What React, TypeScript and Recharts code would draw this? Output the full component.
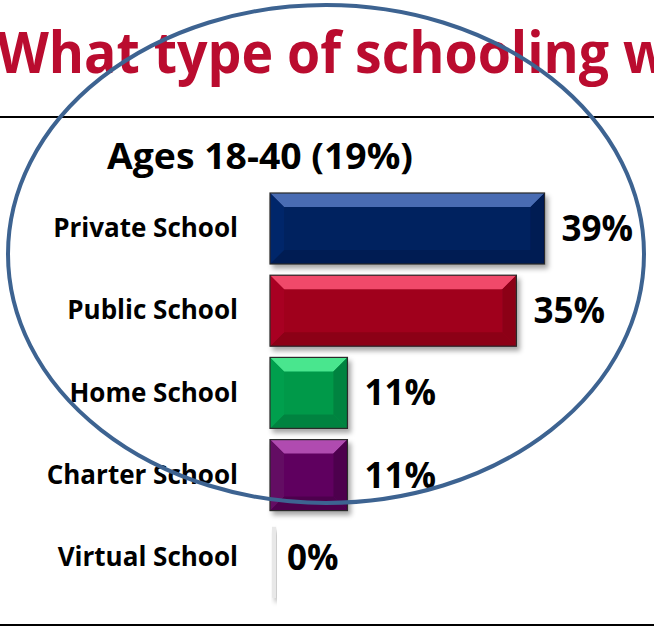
import { Bar, BarChart, Cell, LabelList, XAxis, YAxis } from "recharts";

const categories = ["Private School", "Public School", "Home School", "Charter School", "Virtual School"];
const values = [39, 35, 11, 11, 0];

// main / top bevel / bottom bevel / side colours per bar
const mainColors = ["#00205F", "#A0001F", "#00994A", "#5E005E", "#E6E6E6"];
const topColors = ["#4A6CB3", "#F0486A", "#48E68E", "#B04CB0", "#F2F2F2"];
const bottomColors = ["#001A52", "#8C0019", "#00833F", "#4E004E", "#DDDDDD"];
const sideColors = ["#06266A", "#A80524", "#049F4E", "#640864", "#E0E0E0"];

const TITLE = "What type of schooling w";
const SUBTITLE = "Ages 18-40 (19%)";

const FONT = "'Open Sans', sans-serif";

const data = categories.map((name, i) => ({ name, value: values[i] }));

function BevelBar(props: any) {
  const { x, y, width, height, index } = props;
  if (width <= 0.5) {
    return (
      <rect x={x + 2} y={y + 5} width={4} height={height} fill="#E8E8E8" filter="url(#shadow)" />
    );
  }
  const b = 14;
  const x2 = x + width;
  const y2 = y + height;
  return (
    <g filter="url(#shadow)">
      <rect x={x} y={y} width={width} height={height} fill={mainColors[index]} />
      <polygon
        points={`${x},${y} ${x2},${y} ${x2 - b},${y + b} ${x + b},${y + b}`}
        fill={topColors[index]}
      />
      <polygon
        points={`${x},${y2} ${x2},${y2} ${x2 - b},${y2 - b} ${x + b},${y2 - b}`}
        fill={bottomColors[index]}
      />
      <polygon
        points={`${x},${y} ${x + b},${y + b} ${x + b},${y2 - b} ${x},${y2}`}
        fill={sideColors[index]}
      />
      <polygon
        points={`${x2},${y} ${x2 - b},${y + b} ${x2 - b},${y2 - b} ${x2},${y2}`}
        fill={bottomColors[index]}
      />
      <rect x={x} y={y} width={width} height={height} fill="none" stroke="#2a2a2a" strokeWidth={1.2} />
    </g>
  );
}

function CategoryTick(props: any) {
  const { x, y, payload } = props;
  return (
    <text
      x={x}
      y={y}
      dy={9}
      textAnchor="end"
      fontFamily={FONT}
      fontWeight={700}
      fontSize={26}
      fill="#000"
    >
      {payload.value}
    </text>
  );
}

export default function App() {
  return (
    <div style={{ position: "absolute", left: 0, top: 0, width: 654, height: 627, background: "#fff" }}>
      <BarChart
        width={654}
        height={627}
        data={data}
        layout="vertical"
        margin={{ top: 187, right: 32, bottom: 29, left: 0 }}
        barSize={71}
      >
        <defs>
          <filter id="shadow" x="-10%" y="-20%" width="130%" height="150%">
            <feDropShadow dx={3} dy={4} stdDeviation={2.5} floodColor="#000" floodOpacity={0.35} />
          </filter>
        </defs>
        <XAxis type="number" domain={[0, 50]} hide />
        <YAxis
          type="category"
          dataKey="name"
          width={270}
          axisLine={false}
          tickLine={false}
          tickMargin={26}
          tick={<CategoryTick />}
          interval={0}
        />
        <Bar dataKey="value" shape={<BevelBar />} isAnimationActive={false}>
          {data.map((d) => (
            <Cell key={d.name} />
          ))}
          <LabelList
            dataKey="value"
            position="right"
            offset={17}
            formatter={(v: any) => `${v}%`}
            style={{ fontFamily: FONT, fontWeight: 700, fontSize: 35, fill: "#000" }}
          />
        </Bar>
      </BarChart>
      <svg
        width={654}
        height={627}
        style={{ position: "absolute", left: 0, top: 0, pointerEvents: "none" }}
      >
        <text
          x={-3}
          y={73}
          fontFamily={FONT}
          fontWeight={700}
          fontSize={57}
          fill="#BA0C2F"
          textLength={672}
          lengthAdjust="spacingAndGlyphs"
        >
          {TITLE}
        </text>
        <text
          x={107}
          y={169}
          fontFamily={FONT}
          fontWeight={700}
          fontSize={36}
          fill="#000"
          textLength={306}
          lengthAdjust="spacingAndGlyphs"
        >
          {SUBTITLE}
        </text>
        <line x1={0} y1={117} x2={654} y2={117} stroke="#000" strokeWidth={2} />
        <line x1={0} y1={625} x2={654} y2={625} stroke="#000" strokeWidth={2} />
        <ellipse cx={326} cy={254} rx={318} ry={249} fill="none" stroke="#3D6391" strokeWidth={4} />
      </svg>
    </div>
  );
}
